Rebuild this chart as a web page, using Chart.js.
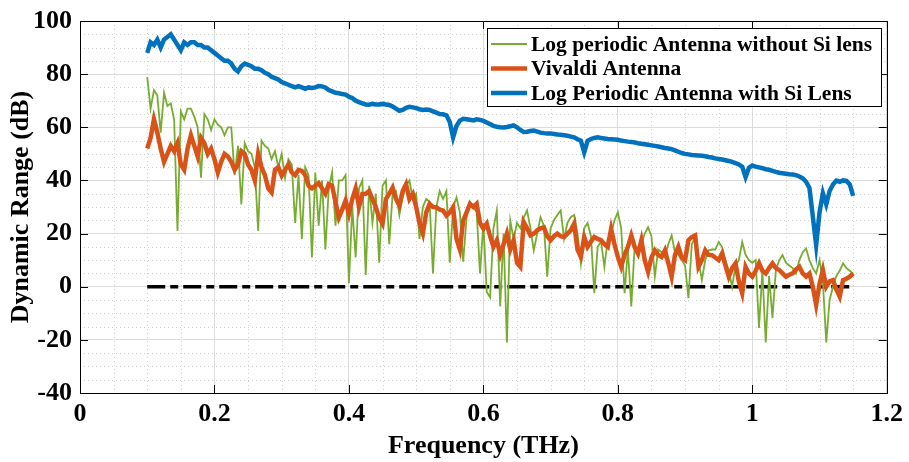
<!DOCTYPE html>
<html>
<head>
<meta charset="utf-8">
<script src="https://cdn.jsdelivr.net/npm/chart.js@4"></script>
<style>
  html, body { margin: 0; padding: 0; background: #fff; }
</style>
</head>
<body>
<canvas id="drChart" width="909" height="462"></canvas>
<script>
// frequency grid of the traces (THz)
const freqStart = 0.1;
const freqStep = 0.005;

const xTicks = [0, 0.2, 0.4, 0.6, 0.8, 1, 1.2];
const yTicks = [-40, -20, 0, 20, 40, 60, 80, 100];

// Log Periodic Antenna with Si Lens (dB)
const lensDR = [
  88, 92, 91, 93, 90, 93, 94, 95, 93, 91,
  89, 92, 91, 92, 92, 91, 91, 90, 90, 89,
  88, 87, 86, 85, 85, 84, 82, 81, 83, 84,
  83.5, 83, 82, 82, 81.5, 80.5, 80, 79, 78.5, 78,
  77, 76.5, 76, 75.5, 75, 75.5, 75, 74.5, 75, 74.8,
  75, 75.5, 75.4, 75, 74, 73.5, 73, 72.8, 72.5, 72.3,
  71.5, 71, 70, 69.5, 69, 68.6, 68.5, 68.8, 68.6, 68.6,
  68.8, 68.6, 68.4, 67.8, 67, 66.2, 66.5, 67.3, 67.7, 67.5,
  67.2, 66.8, 66.5, 66.7, 66.5, 66, 65.5, 65, 64.9, 64.5,
  62, 56.2, 60.5, 62.5, 63.2, 63, 62.8, 62.6, 63, 62.8,
  62.4, 61.8, 61.2, 60.5, 60.2, 60, 59.9, 60.1, 60.4, 60.7,
  60, 59, 58.2, 58.3, 58.6, 58.8, 58.4, 58, 57.8, 57.7,
  57.7, 57.5, 57.3, 57.2, 57, 56.8, 56.5, 56.2, 55.5, 55,
  50.6, 54.9, 55.6, 56, 56.2, 56, 55.8, 55.6, 55.5, 55.4,
  55.3, 55, 54.8, 54.6, 54.5, 54.3, 54, 53.8, 53.6, 53.4,
  53.2, 53, 52.8, 52.5, 52.2, 52, 51.8, 51.3, 50.8, 50.3,
  50, 49.8, 49.6, 49.5, 49.4, 49.3, 49.1, 48.8, 48.6, 48.3,
  48.1, 47.9, 47.6, 47.3, 47, 46.5, 46, 45.2, 41.3, 44.8,
  45.6, 45.2, 44.9, 44.6, 44.2, 44, 43.6, 43.2, 42.9, 42.7,
  42.5, 42.3, 42.2, 42, 41.5, 40.8, 39.5, 37.2, 26.5, 15.6,
  28, 35.2, 31, 36, 38.5, 39.9, 39.5, 40, 39.8, 38.5,
  34.2
];

// Vivaldi Antenna (dB)
const vivaldiDR = [
  52, 56, 63, 58, 52, 47, 50, 53, 51, 54,
  46, 44, 52, 57, 53, 49, 56, 54, 50, 52,
  48, 43, 47, 50, 49, 47, 44, 46, 51, 50,
  46, 44, 40, 50, 45, 42, 37, 35.5, 44, 45,
  41.8, 44, 46, 43, 42, 44, 43.6, 42, 38, 37,
  38, 39, 37, 35, 38.6, 38, 32, 26, 29, 32.4,
  27.4, 33, 37, 30, 34.9, 35, 36, 33, 29.9, 26,
  23.7, 33, 35, 37.3, 33, 30.5, 36, 38.6, 33, 34.9,
  30, 24, 20, 28, 31.2, 30, 29.9, 29, 28.7, 26.8,
  28, 29.9, 18, 14, 24.9, 28, 31.2, 30, 31.2, 24,
  21.8, 23.7, 19, 15, 17.5, 12, 16, 20, 14, 17.5,
  9, 7.5, 24.3, 22, 19.3, 20, 21.2, 22, 22.4, 19,
  17.5, 19, 20, 19, 18.7, 20, 21.2, 23.7, 14, 11.2,
  18.7, 15, 17, 18.7, 18, 17.5, 16, 15, 21.8, 16,
  11.2, 7.5, 12, 15, 19.3, 15, 12.5, 17.5, 10, 5.6,
  11, 13.7, 12, 11.2, 13.7, 9, 3.8, 12, 15, 11,
  10, 17.5, 18.7, 19.3, 7.5, 10, 13.7, 12, 11.9, 11,
  10, 12.5, 8, 3.8, 7, 8.8, 2, -2.4, 7.5, 5,
  3.8, 6, 8.8, 6, 5, 7, 8.8, 7, 6.3, 5,
  3.8, 4.5, 5, 6.5, 7.5, 5, 3.8, 5, 0, -6.8,
  1, 6.3, 0, 2, 2.5, -1, -3.7, 2.5, 3, 3.8,
  5
];

// Log periodic Antenna without Si lens (dB)
const noLensDR = [
  79, 67, 74, 72, 58, 73, 68, 69, 63, 21,
  66, 63, 67, 67, 64, 60, 41, 65, 63, 59,
  63, 61, 60, 57, 60, 60, 42, 53, 31, 54,
  51, 50, 45, 21, 55, 53, 52, 48, 51, 45,
  50, 41, 48, 46, 24, 42, 18, 45, 42, 11,
  43, 23, 40, 14, 37, 43, 23, 40, 40, 42,
  1.3, 30, 11, 37, 40, 4.4, 38, 24, 35, 9,
  38, 40, 16, 35, 36, 27, 34, 38, 40, 33,
  35, 18, 30, 33, 32, 5, 30, 36, 33, 36,
  9, 30, 33.6, 28, 9.4, 26, 32, 30, 28, 5,
  24, -2, -4, 22, 28.7, -7.4, 20, -21, 24.9, 18,
  24, 22, 26, 28.7, 22, 13.7, 20, 26.2, 23, 3.8,
  22, 25, 27, 28.7, 18, 24, 26.2, 27, 20, 8.8,
  22, 24, 19, -2.4, 15, 17, 7.5, 18, 20, 25,
  28, 22, -2.4, 14, -7.4, 15, 12, 16, 20, 22.4,
  19, 3.8, 14, 13, 11, 16, 19.3, 13, 12, 10,
  8, -4.3, 16, 18.7, 10, 2.5, 10, 13.7, 14, 14,
  16.8, 15, 10, 6, 0, 8, 10, 16.8, 12, 10,
  9, 10, -15.5, 6, -21, 4, -11.8, 6, 10, 11.9,
  9, 8, 7, 5, 10, 13, 14.4, 10, 7, 5,
  10, 2, -21, -5, 0, 4, 6, 8.8, 7, 6,
  5
];

// 0 dB reference line
const refFreq = [0.1, 1.15];
const refDR = [0, 0];

const toPoints = (vals) => vals.map((v, i) => ({ x: +(freqStart + i * freqStep).toFixed(3), y: v }));

const serif = '"Liberation Serif", "Times New Roman", serif';

// matlab style box, inward ticks, minor dotted grid, legend inside the axes
const axesDecor = {
  id: 'axesDecor',
  beforeDatasetsDraw(chart) {
    const { ctx, chartArea: a, scales } = chart;
    ctx.save();
    ctx.strokeStyle = '#d0d0d0';
    ctx.lineWidth = 1;
    ctx.setLineDash([1, 3]);
    for (let v = 0.05; v < 1.2; v += 0.05) {
      if (Math.abs(v / 0.2 - Math.round(v / 0.2)) < 1e-6) continue;
      const px = Math.round(scales.x.getPixelForValue(v)) + 0.5;
      ctx.beginPath(); ctx.moveTo(px, a.top); ctx.lineTo(px, a.bottom); ctx.stroke();
    }
    for (let v = -35; v < 100; v += 5) {
      if (v % 20 === 0) continue;
      const py = Math.round(scales.y.getPixelForValue(v)) + 0.5;
      ctx.beginPath(); ctx.moveTo(a.left, py); ctx.lineTo(a.right, py); ctx.stroke();
    }
    ctx.restore();
  },
  afterDraw(chart) {
    const { ctx, chartArea: a, scales } = chart;
    ctx.save();
    ctx.strokeStyle = '#000';
    ctx.lineWidth = 1;
    ctx.setLineDash([]);
    ctx.strokeRect(Math.round(a.left) + 0.5, Math.round(a.top) + 0.5,
      Math.round(a.right - a.left), Math.round(a.bottom - a.top));
    const tl = 8;
    ctx.beginPath();
    xTicks.forEach(t => {
      const px = Math.round(scales.x.getPixelForValue(t)) + 0.5;
      ctx.moveTo(px, a.bottom); ctx.lineTo(px, a.bottom - tl);
      ctx.moveTo(px, a.top); ctx.lineTo(px, a.top + tl);
    });
    yTicks.forEach(t => {
      const py = Math.round(scales.y.getPixelForValue(t)) + 0.5;
      ctx.moveTo(a.left, py); ctx.lineTo(a.left + tl, py);
      ctx.moveTo(a.right, py); ctx.lineTo(a.right - tl, py);
    });
    ctx.stroke();

    // legend box
    const bx = 487, by = 28, bw = 394, bh = 78;
    ctx.fillStyle = '#fff';
    ctx.fillRect(bx, by, bw, bh);
    ctx.strokeRect(bx + 0.5, by + 0.5, bw, bh);
    const rows = [2, 1, 0];
    ctx.font = 'bold 21.5px ' + serif;
    ctx.textBaseline = 'middle';
    rows.forEach((di, k) => {
      const ds = chart.data.datasets[di];
      const cy = by + 16 + k * 24.5;
      ctx.strokeStyle = ds.borderColor;
      ctx.lineWidth = ds.borderWidth;
      ctx.beginPath(); ctx.moveTo(bx + 4, cy); ctx.lineTo(bx + 40, cy); ctx.stroke();
      ctx.fillStyle = '#000';
      ctx.fillText(ds.label, bx + 44, cy + 1);
    });
    ctx.restore();
  }
};

new Chart(document.getElementById('drChart'), {
  type: 'line',
  data: {
    datasets: [
      {
        label: 'Log Periodic Antenna with Si Lens',
        data: toPoints(lensDR),
        borderColor: '#0072BD',
        borderWidth: 4.5,
        pointRadius: 0,
        tension: 0,
        order: 0,
      },
      {
        label: 'Vivaldi Antenna',
        data: toPoints(vivaldiDR),
        borderColor: '#D95319',
        borderWidth: 4.5,
        pointRadius: 0,
        tension: 0,
        order: 1,
      },
      {
        label: 'Log periodic Antenna without Si lens',
        data: toPoints(noLensDR),
        borderColor: '#77AC30',
        borderWidth: 1.8,
        pointRadius: 0,
        tension: 0,
        order: 2,
      },
      {
        label: 'zero',
        data: refFreq.map((f, i) => ({ x: f, y: refDR[i] })),
        borderColor: '#000',
        borderWidth: 3.5,
        borderDash: [18, 5, 8, 5],
        pointRadius: 0,
        order: 3,
      },
    ],
  },
  plugins: [axesDecor],
  options: {
    responsive: false,
    animation: false,
    maintainAspectRatio: false,
    layout: { padding: { top: 18, right: 17, left: 0, bottom: 0 } },
    scales: {
      x: {
        type: 'linear',
        min: 0,
        max: 1.2,
        afterBuildTicks: (scale) => { scale.ticks = xTicks.map(v => ({ value: v })); },
        afterFit: (scale) => { scale.height = 69; },
        grid: { color: '#dcdcdc', drawTicks: false },
        border: { display: false },
        ticks: {
          color: '#000',
          padding: 6,
          maxRotation: 0,
          font: { family: serif, size: 26, weight: 'bold' },
          callback: (v) => String(v),
        },
        title: {
          display: true,
          text: 'Frequency (THz)',
          color: '#000',
          padding: { top: 0, bottom: 0 },
          font: { family: serif, size: 26, weight: 'bold' },
        },
      },
      y: {
        min: -40,
        max: 100,
        afterBuildTicks: (scale) => { scale.ticks = yTicks.map(v => ({ value: v })); },
        afterFit: (scale) => { scale.width = 80; },
        grid: { color: '#dcdcdc', drawTicks: false },
        border: { display: false },
        ticks: {
          color: '#000',
          padding: 8,
          font: { family: serif, size: 26, weight: 'bold', lineHeight: 1 },
        },
        title: {
          display: true,
          text: 'Dynamic Range (dB)',
          color: '#000',
          padding: { top: 6, bottom: 0 },
          font: { family: serif, size: 26, weight: 'bold' },
        },
      },
    },
    plugins: {
      legend: { display: false },
      tooltip: { enabled: false },
    },
  },
});
</script>
</body>
</html>
